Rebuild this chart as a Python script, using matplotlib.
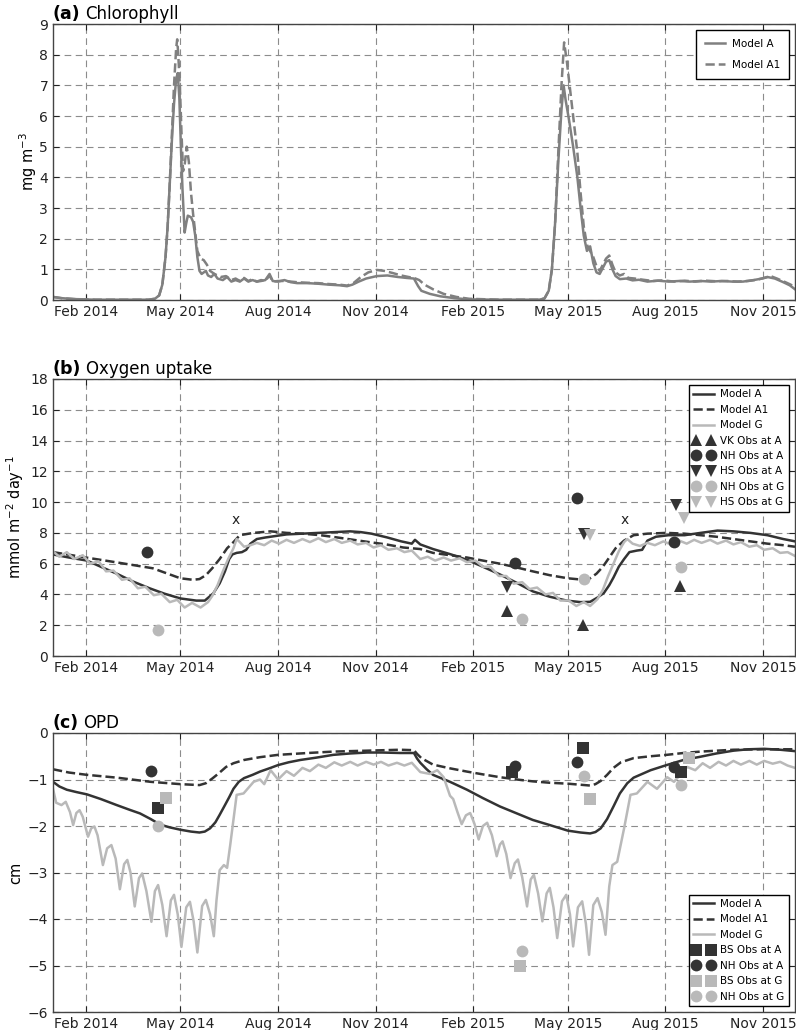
import numpy as np
import matplotlib
matplotlib.use("Agg")
import matplotlib.pyplot as plt
import matplotlib.dates as mdates
from matplotlib.legend_handler import HandlerLine2D

# ---------------- data (days since 2014-01-01) ----------------
START = "2014-01-01"
END = "2015-12-01"

chl_A_days = [0, 8, 20, 40, 90, 96, 100, 103, 106, 108, 110, 112, 114, 116, 117.5, 119, 120.5, 122, 124, 125.5,
              127, 130, 132, 134, 136, 138, 140, 142, 144, 146, 149, 152, 155, 160, 164, 168, 172, 176, 180, 184,
              188, 192, 196, 200, 204, 207, 212, 218, 224, 230, 240, 250, 260, 270, 277, 282, 288, 295, 305, 315,
              325, 333, 340, 344, 347, 355, 365, 378, 392, 420, 458, 463, 467, 470, 473, 476, 479, 481, 483, 486,
              490, 494, 497, 500, 503, 506, 509, 512, 515, 518, 521, 524, 527, 530, 534, 540, 546, 552, 560, 570,
              580, 590, 600, 610, 620, 630, 640, 650, 660, 668, 673, 680, 688, 694, 699]
chl_A_vals = [0.10, 0.06, 0.03, 0.01, 0.01, 0.04, 0.15, 0.5, 1.4, 2.4, 3.8, 5.2, 6.4, 7.2, 7.4, 6.6, 5.0, 3.6, 2.2, 2.5,
              2.75, 2.7, 2.55, 2.1, 1.4, 0.95, 0.85, 0.9, 0.95, 0.8, 0.75, 0.85, 0.7, 0.65, 0.75, 0.6, 0.65, 0.6, 0.7, 0.6,
              0.65, 0.6, 0.62, 0.65, 0.85, 0.62, 0.6, 0.65, 0.58, 0.55, 0.55, 0.53, 0.5, 0.48, 0.45, 0.5, 0.6, 0.7, 0.78, 0.8,
              0.75, 0.72, 0.7, 0.45, 0.3, 0.2, 0.12, 0.06, 0.02, 0.01, 0.01, 0.05, 0.3, 1.0, 2.5, 4.5, 6.2, 7.0, 6.5, 5.9,
              5.0, 4.0, 3.0, 2.1, 1.6, 1.75, 1.2, 0.9, 0.85, 1.05, 1.25, 1.3, 1.0, 0.78, 0.68, 0.7, 0.64, 0.66, 0.6, 0.63,
              0.6, 0.62, 0.6, 0.62, 0.6, 0.62, 0.6, 0.6, 0.65, 0.7, 0.75, 0.7, 0.58, 0.48, 0.35]

chl_A1_days = [0, 8, 20, 40, 90, 96, 100, 103, 106, 108, 110, 112, 114, 116, 117, 118, 119.5, 121, 122.5, 124,
               126, 128, 130, 132, 134, 136, 139, 142, 145, 148, 152, 158, 163, 168, 172, 176, 180, 184, 188, 192,
               196, 200, 204, 207, 212, 218, 224, 230, 240, 250, 260, 270, 277, 283, 290, 297, 305, 312, 320, 328,
               335, 340, 345, 350, 358, 368, 380, 392, 420, 458, 463, 467, 470, 473, 476, 479, 481.5, 484, 487, 490,
               494, 497, 500, 503, 506, 509, 512, 515, 518, 521, 524, 527, 530, 534, 538, 542, 548, 556, 565, 575,
               585, 595, 605, 615, 625, 635, 645, 655, 663, 670, 676, 682, 690, 695, 699]
chl_A1_vals = [0.10, 0.06, 0.03, 0.01, 0.01, 0.04, 0.15, 0.5, 1.4, 2.4, 3.8, 5.4, 7.0, 8.2, 8.5, 8.0, 7.0, 5.5, 4.2, 4.4,
               5.0, 4.5, 3.5, 2.8, 2.2, 1.6, 1.35, 1.3, 1.15, 0.95, 0.85, 0.75, 0.78, 0.65, 0.7, 0.62, 0.72, 0.62, 0.68, 0.6,
               0.65, 0.62, 0.8, 0.6, 0.62, 0.62, 0.6, 0.58, 0.56, 0.55, 0.52, 0.5, 0.47, 0.55, 0.75, 0.9, 0.98, 0.95, 0.88, 0.8,
               0.75, 0.72, 0.65, 0.5, 0.35, 0.2, 0.1, 0.04, 0.01, 0.01, 0.05, 0.3, 1.0, 2.5, 4.8, 7.0, 8.4, 7.8, 6.9, 6.0,
               4.8, 3.5, 2.4, 1.8, 1.6, 1.4, 1.1, 0.95, 1.15, 1.35, 1.45, 1.15, 0.9, 0.8, 0.85, 0.72, 0.7, 0.66, 0.62, 0.64,
               0.6, 0.63, 0.6, 0.63, 0.61, 0.62, 0.6, 0.62, 0.66, 0.72, 0.78, 0.7, 0.58, 0.5, 0.4]

oxy_A_days = [0, 15, 32, 45, 60, 75, 91, 105, 120, 135, 143, 151, 157, 162, 166, 169, 173, 178, 182, 186, 192, 200,
              210, 220, 235, 250, 265, 280, 290, 300, 315, 328, 338, 341, 346, 358, 375, 390, 405, 421, 437, 452,
              468, 484, 497, 506, 513, 519, 524, 528, 533, 538, 543, 550, 555, 560, 568, 580, 595, 610, 626, 641,
              657, 673, 688, 699]
oxy_A_vals = [6.6, 6.4, 6.2, 5.8, 5.35, 4.85, 4.4, 4.05, 3.74, 3.6, 3.6, 4.07, 4.72, 5.5, 6.3, 6.6, 6.7, 6.75, 6.9, 7.3,
              7.6, 7.7, 7.8, 7.9, 7.95, 8.0, 8.05, 8.1, 8.05, 7.95, 7.7, 7.45, 7.3, 7.55, 7.25, 6.95, 6.6, 6.25, 5.8, 5.3,
              4.75, 4.2, 3.85, 3.6, 3.5, 3.52, 3.8, 4.1, 4.6, 5.1, 5.8, 6.3, 6.75, 6.85, 6.9, 7.5, 7.75, 7.85, 7.85, 8.0,
              8.15, 8.1, 8.0, 7.85, 7.6, 7.45]

oxy_A1_days = [0, 31, 63, 94, 110, 120, 132, 138, 144, 150, 157, 164, 170, 176, 189, 205, 220, 235, 252, 268, 283,
               298, 314, 330, 346, 358, 374, 390, 405, 421, 437, 452, 468, 485, 500, 506, 512, 518, 524, 530, 538,
               547, 560, 578, 595, 610, 625, 641, 657, 673, 688, 699]
oxy_A1_vals = [6.75, 6.4, 6.05, 5.7, 5.3, 5.05, 4.95, 5.0, 5.25, 5.7, 6.3, 7.0, 7.4, 7.85, 8.0, 8.1, 8.0, 7.95, 7.85,
               7.7, 7.55, 7.4, 7.25, 7.05, 6.95, 6.7, 6.55, 6.4, 6.2, 6.0, 5.75, 5.5, 5.25, 5.05, 4.95, 5.05, 5.35, 5.8,
               6.4, 7.0, 7.5, 7.85, 7.95, 8.0, 7.95, 7.85, 7.75, 7.6, 7.45, 7.3, 7.2, 7.1]

oxy_G_days = [0, 6, 13, 20, 28, 35, 43, 50, 57, 65, 72, 80, 87, 95, 102, 110, 117, 124, 131, 139, 146, 150, 155, 160,
              165, 170, 173, 176, 180, 186, 192, 199, 206, 213, 220, 227, 235, 242, 250, 257, 265, 272, 280, 287, 295,
              302, 309, 316, 324, 331, 338, 346, 353, 360, 368, 375, 383, 390, 398, 405, 412, 420, 427, 434, 442, 449,
              456, 464, 471, 478, 486, 493, 500, 506, 513, 518, 523, 528, 533, 538, 541, 546, 553, 560, 567, 575, 582,
              590, 597, 604, 611, 619, 626, 634, 641, 648, 656, 663, 670, 678, 685, 692, 699]
oxy_G_vals = [6.8, 6.45, 6.75, 6.3, 6.55, 6.0, 6.15, 5.5, 5.55, 4.95, 5.05, 4.4, 4.5, 3.95, 4.05, 3.5, 3.65, 3.15, 3.45,
              3.15, 3.5, 3.9, 4.6, 5.5, 6.3, 7.0, 7.6, 7.4, 7.1, 7.2, 7.35, 7.2, 7.5, 7.3, 7.55, 7.35, 7.6, 7.4, 7.65, 7.4,
              7.6, 7.35, 7.5, 7.25, 7.35, 7.05, 7.2, 6.9, 7.0, 6.75, 6.85, 6.3, 6.45, 6.2, 6.4, 6.2, 6.35, 6.1, 6.2, 5.8,
              5.8, 5.2, 5.2, 4.7, 4.8, 4.35, 4.45, 4.0, 4.1, 3.6, 3.6, 3.25, 3.5, 3.25, 3.7, 4.3, 5.2, 6.0, 6.8, 7.4, 7.6,
              7.3, 7.15, 7.35, 7.2, 7.45, 7.25, 7.5, 7.3, 7.55, 7.35, 7.55, 7.3, 7.5, 7.25, 7.4, 7.1, 7.2, 6.9, 7.0, 6.7,
              6.75, 6.5]

opd_A_days = [0, 6, 13, 22, 32, 45, 60, 72, 82, 92, 101, 110, 120, 130, 138, 143, 148, 153, 157, 162, 166, 170, 175,
              180, 188, 195, 205, 212, 222, 233, 248, 264, 280, 296, 310, 327, 340, 343, 346, 352, 358, 374, 390, 405,
              421, 437, 452, 468, 485, 497, 506, 511, 516, 522, 528, 534, 541, 547, 555, 563, 578, 594, 610, 625, 641,
              655, 670, 685, 699]
opd_A_vals = [-1.05, -1.15, -1.22, -1.27, -1.32, -1.42, -1.55, -1.65, -1.73, -1.85, -1.97, -2.03, -2.08, -2.12, -2.14,
              -2.12, -2.05, -1.92, -1.76, -1.55, -1.38, -1.2, -1.05, -0.97, -0.9, -0.83, -0.75, -0.69, -0.63, -0.58,
              -0.53, -0.47, -0.44, -0.42, -0.42, -0.43, -0.43, -0.55, -0.64, -0.78, -0.9, -1.05, -1.22, -1.4, -1.58,
              -1.73, -1.87, -1.98, -2.1, -2.14, -2.16, -2.13, -2.05, -1.85, -1.58, -1.3, -1.08, -0.96, -0.88, -0.8,
              -0.69, -0.58, -0.51, -0.44, -0.38, -0.35, -0.34, -0.36, -0.39]

opd_A1_days = [0, 15, 32, 60, 92, 120, 138, 144, 150, 156, 163, 170, 180, 195, 212, 240, 264, 296, 327, 340, 343, 347,
               358, 374, 390, 405, 421, 437, 452, 468, 485, 506, 511, 516, 522, 528, 535, 547, 563, 578, 594, 610, 641,
               670, 699]
opd_A1_vals = [-0.78, -0.85, -0.9, -0.96, -1.05, -1.1, -1.12, -1.08, -0.98, -0.87, -0.73, -0.65, -0.58, -0.52, -0.47,
               -0.43, -0.4, -0.38, -0.36, -0.37, -0.45, -0.54, -0.68, -0.76, -0.83, -0.89, -0.95, -1.0, -1.04, -1.07,
               -1.09, -1.13, -1.1, -1.03, -0.9, -0.75, -0.63, -0.54, -0.5, -0.47, -0.43, -0.4, -0.36, -0.35, -0.35]

opd_G_days = [0, 3, 8, 12, 16, 19, 22, 25, 28, 33, 36, 39, 42, 47, 51, 55, 59, 63, 67, 70, 73, 77, 81, 84, 88, 92.7,
              96, 99, 103, 107, 111, 114, 117.5, 121, 125.5, 129, 132.5, 136, 140.5, 144, 148, 151.5, 154, 157, 161,
              164, 167, 170, 173, 179.5, 189, 195, 199, 205, 212, 220, 227, 235, 242, 250, 257, 265, 272, 280, 287,
              295, 302, 309, 316, 324, 331, 338, 346, 355, 362, 368, 374, 377, 381, 385, 389, 393, 397, 401, 405, 409,
              413.5, 418, 421, 423.5, 427, 431, 435, 438, 442, 446.6, 450, 453, 457, 461, 465, 468, 471.5, 475, 479.5,
              483.5, 487, 490, 494.5, 498.5, 502, 505, 509, 513, 517, 520.5, 524, 527, 531.5, 538, 544, 550, 560, 569,
              578.6, 585, 597.5, 605, 612, 619, 627, 634, 641, 648, 656, 663, 670, 678, 685, 692, 699]
opd_G_vals = [-1.2, -1.5, -1.55, -1.48, -1.7, -1.98, -1.72, -1.66, -1.8, -2.23, -2.05, -2.01, -2.2, -2.84, -2.48, -2.41,
              -2.7, -3.36, -2.82, -2.73, -3.0, -3.73, -3.12, -3.02, -3.4, -4.06, -3.4, -3.27, -3.7, -4.37, -3.6, -3.48,
              -3.9, -4.6, -3.75, -3.63, -4.05, -4.72, -3.72, -3.59, -3.9, -4.37, -3.6, -2.95, -2.84, -2.9, -2.4, -1.87,
              -1.33, -1.3, -1.05, -1.0, -1.1, -0.8, -1.0, -0.82, -0.92, -0.75, -0.82, -0.68, -0.75, -0.63, -0.7, -0.62,
              -0.7, -0.62, -0.68, -0.62, -0.7, -0.64, -0.7, -0.64, -0.84, -0.88, -0.8, -0.95, -1.35, -1.42, -1.7, -1.96,
              -1.77, -1.72, -1.95, -2.29, -2.0, -1.93, -2.2, -2.65, -2.4, -2.33, -2.6, -3.12, -2.8, -2.72, -3.1, -3.73,
              -3.15, -3.05, -3.45, -4.05, -3.45, -3.33, -3.75, -4.41, -3.62, -3.48, -3.9, -4.59, -3.75, -3.62, -4.1,
              -4.77, -3.7, -3.55, -3.85, -4.34, -3.3, -2.84, -2.77, -2.05, -1.33, -1.3, -1.05, -1.2, -0.95, -1.05,
              -0.73, -0.8, -0.65, -0.75, -0.62, -0.7, -0.6, -0.68, -0.6, -0.68, -0.6, -0.66, -0.62, -0.7, -0.75]

# observations (panel b)
oxy_vk_A_dates = ["2015-03-05", "2015-05-15", "2015-08-15"]
oxy_vk_A_vals = [2.92, 2.0, 4.55]
oxy_nh_A_dates = ["2014-03-31", "2015-03-12", "2015-05-10", "2015-08-09"]
oxy_nh_A_vals = [6.76, 6.02, 10.25, 7.4]
oxy_hs_A_dates = ["2015-03-05", "2015-05-16", "2015-08-11"]
oxy_hs_A_vals = [4.5, 7.95, 9.8]
oxy_nh_G_dates = ["2014-04-10", "2015-03-19", "2015-05-16", "2015-08-16"]
oxy_nh_G_vals = [1.69, 2.43, 5.0, 5.76]
oxy_hs_G_dates = ["2015-05-22", "2015-08-18"]
oxy_hs_G_vals = [7.85, 9.0]
oxy_x_dates = ["2014-06-22", "2015-06-24"]
oxy_x_vals = [8.84, 8.84]

# observations (panel c)
opd_bs_A_dates = ["2014-04-10", "2015-03-09", "2015-05-15", "2015-08-16"]
opd_bs_A_vals = [-1.62, -0.83, -0.33, -0.83]
opd_nh_A_dates = ["2014-04-03", "2015-03-12", "2015-05-10", "2015-08-09"]
opd_nh_A_vals = [-0.81, -0.72, -0.62, -0.74]
opd_bs_G_dates = ["2014-04-17", "2015-03-17", "2015-05-22", "2015-08-23"]
opd_bs_G_vals = [-1.40, -5.0, -1.42, -0.53]
opd_nh_G_dates = ["2014-04-10", "2015-03-19", "2015-05-16", "2015-08-16"]
opd_nh_G_vals = [-2.01, -4.69, -0.92, -1.12]

# ---------------- styling ----------------
DARK = "#333333"
LIGHT = "#b9b9b9"
MID = "#808080"
base = np.datetime64(START)


def to_dates(days):
    return base + np.round(np.asarray(days, dtype=float) * 24).astype("timedelta64[h]")


def obs_dates(lst):
    return np.array(lst, dtype="datetime64[D]")


plt.rcParams["font.family"] = "DejaVu Sans"

fig = plt.figure(figsize=(7.96, 10.30), dpi=100)
W, H = 796.0, 1030.0
L = 53 / W
AW = (795 - 53) / W
ax_a = fig.add_axes([L, 1 - 300 / H, AW, 276 / H])
ax_b = fig.add_axes([L, 1 - 656 / H, AW, 277 / H])
ax_c = fig.add_axes([L, 1 - 1012 / H, AW, 279 / H])


def style_axis(ax, ylim, yticks, ylabel, labelpad):
    ax.set_xlim(np.datetime64(START), np.datetime64(END))
    ax.set_ylim(*ylim)
    ax.set_yticks(yticks)
    ax.xaxis.set_major_locator(mdates.MonthLocator(bymonth=[2, 5, 8, 11]))
    ax.xaxis.set_major_formatter(mdates.DateFormatter("%b %Y"))
    ax.grid(True, color="0.55", linestyle=(0, (6, 4)), linewidth=0.8)
    ax.tick_params(direction="in", top=True, right=True, length=4, width=0.8,
                   labelsize=10, pad=3.5, colors="#222222")
    for s in ax.spines.values():
        s.set_color("#444444")
        s.set_linewidth(1.0)
    ax.set_ylabel(ylabel, fontsize=10.5, labelpad=labelpad)


def panel_title(ax, letter, text):
    t1 = ax.text(0, 1.004, letter, transform=ax.transAxes, fontsize=12.5,
                 fontweight="bold", va="bottom", ha="left")
    ax.annotate(text, xy=(1, 0), xycoords=t1, xytext=(3, 0),
                textcoords="offset points", fontsize=12, va="bottom", ha="left")


legend_common = dict(fontsize=7.5, handlelength=2.0, handletextpad=0.6, fancybox=False,
                     framealpha=1, edgecolor="black", borderaxespad=0.6)

# ---- panel a ----
la, = ax_a.plot(to_dates(chl_A_days), chl_A_vals, color=MID, lw=1.8, label="Model A")
la1, = ax_a.plot(to_dates(chl_A1_days), chl_A1_vals, color=MID, lw=1.8, ls="--", label="Model A1")
style_axis(ax_a, (0, 9), range(0, 10), "mg m$^{-3}$", 0.5)
panel_title(ax_a, "(a)", "Chlorophyll")
leg = ax_a.legend(loc="upper right", labelspacing=1.05, borderpad=0.85, **legend_common)
leg.get_frame().set_linewidth(1.0)

# ---- panel b ----
lbA, = ax_b.plot(to_dates(oxy_A_days), oxy_A_vals, color=DARK, lw=1.8, label="Model A")
lbA1, = ax_b.plot(to_dates(oxy_A1_days), oxy_A1_vals, color=DARK, lw=1.8, ls="--", label="Model A1")
lbG, = ax_b.plot(to_dates(oxy_G_days), oxy_G_vals, color=LIGHT, lw=1.8, label="Model G")
ms = 8.5
m1, = ax_b.plot(obs_dates(oxy_vk_A_dates), oxy_vk_A_vals, "^", color=DARK, ms=ms, mew=0, label="VK Obs at A")
m2, = ax_b.plot(obs_dates(oxy_nh_A_dates), oxy_nh_A_vals, "o", color=DARK, ms=ms, mew=0, label="NH Obs at A")
m3, = ax_b.plot(obs_dates(oxy_hs_A_dates), oxy_hs_A_vals, "v", color=DARK, ms=ms, mew=0, label="HS Obs at A")
m4, = ax_b.plot(obs_dates(oxy_nh_G_dates), oxy_nh_G_vals, "o", color=LIGHT, ms=ms, mew=0, label="NH Obs at G")
m5, = ax_b.plot(obs_dates(oxy_hs_G_dates), oxy_hs_G_vals, "v", color=LIGHT, ms=ms, mew=0, label="HS Obs at G")
for d, v in zip(obs_dates(oxy_x_dates), oxy_x_vals):
    ax_b.text(d, v, "x", ha="center", va="center", fontsize=10, color="#222222")
style_axis(ax_b, (0, 18), range(0, 19, 2), "mmol m$^{-2}$ day$^{-1}$", 3.5)
panel_title(ax_b, "(b)", "Oxygen uptake")
hm = {lbA: HandlerLine2D(numpoints=1), lbA1: HandlerLine2D(numpoints=1), lbG: HandlerLine2D(numpoints=1)}
leg = ax_b.legend(handles=[lbA, lbA1, lbG, m1, m2, m3, m4, m5], loc="upper right", numpoints=2,
                  labelspacing=0.52, borderpad=0.4, handler_map=hm, **legend_common)
leg.get_frame().set_linewidth(1.0)

# ---- panel c ----
lcA, = ax_c.plot(to_dates(opd_A_days), opd_A_vals, color=DARK, lw=1.8, label="Model A")
lcA1, = ax_c.plot(to_dates(opd_A1_days), opd_A1_vals, color=DARK, lw=1.8, ls="--", label="Model A1")
lcG, = ax_c.plot(to_dates(opd_G_days), opd_G_vals, color=LIGHT, lw=1.8, label="Model G")
n1, = ax_c.plot(obs_dates(opd_bs_A_dates), opd_bs_A_vals, "s", color=DARK, ms=ms, mew=0, label="BS Obs at A")
n2, = ax_c.plot(obs_dates(opd_nh_A_dates), opd_nh_A_vals, "o", color=DARK, ms=ms, mew=0, label="NH Obs at A")
n3, = ax_c.plot(obs_dates(opd_bs_G_dates), opd_bs_G_vals, "s", color=LIGHT, ms=ms, mew=0, label="BS Obs at G")
n4, = ax_c.plot(obs_dates(opd_nh_G_dates), opd_nh_G_vals, "o", color=LIGHT, ms=ms, mew=0, label="NH Obs at G")
style_axis(ax_c, (-6, 0), range(-6, 1), "cm", 3)
panel_title(ax_c, "(c)", "OPD")
hm = {lcA: HandlerLine2D(numpoints=1), lcA1: HandlerLine2D(numpoints=1), lcG: HandlerLine2D(numpoints=1)}
leg = ax_c.legend(handles=[lcA, lcA1, lcG, n1, n2, n3, n4], loc="lower right", numpoints=2,
                  labelspacing=0.52, borderpad=0.4, handler_map=hm, **legend_common)
leg.get_frame().set_linewidth(1.0)

fig.savefig("out.png", dpi=100)
